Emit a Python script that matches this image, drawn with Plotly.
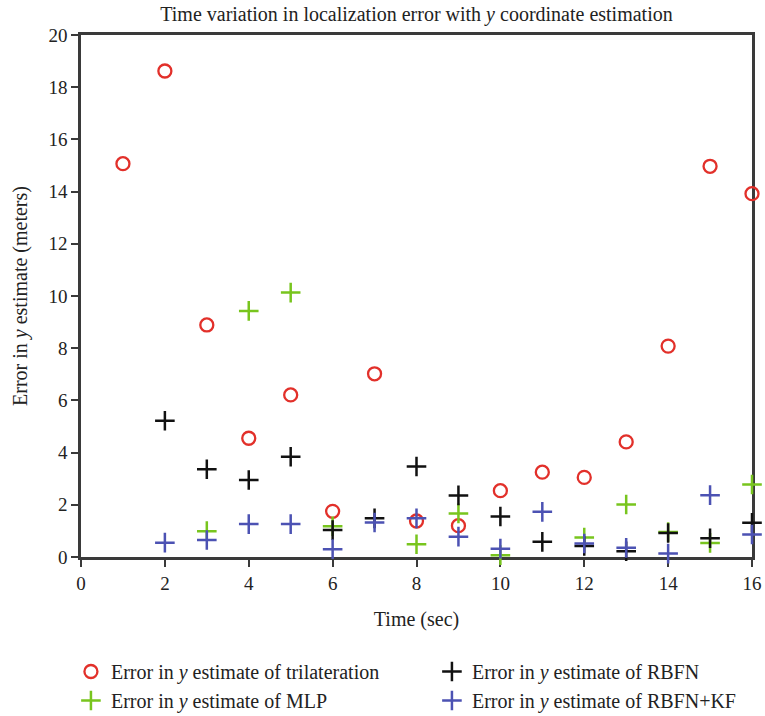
import plotly.graph_objects as go

time = list(range(1, 17))
trilateration = [15.07, 18.62, 8.89, 4.55, 6.21, 1.75, 7.02, 1.38, 1.2, 2.54, 3.25, 3.05, 4.41, 8.08, 14.97, 13.92]
mlp = [None, None, 0.99, 9.43, 10.13, 1.18, None, 0.49, 1.67, 0.07, None, 0.75, 2.01, 0.96, 0.54, 2.78]
rbfn = [None, 5.22, 3.36, 2.95, 3.84, 1.03, 1.48, 3.47, 2.36, 1.55, 0.58, 0.42, 0.22, 0.92, 0.72, 1.31]
rbfn_kf = [None, 0.55, 0.65, 1.26, 1.26, 0.30, 1.32, 1.48, 0.78, 0.32, 1.73, 0.52, 0.35, 0.13, 2.37, 0.86]

x_ticks = [0, 2, 4, 6, 8, 10, 12, 14, 16]
y_ticks = [0, 2, 4, 6, 8, 10, 12, 14, 16, 18, 20]

FONT = "Liberation Serif"
FS = 20
TFS = 19
AX = "#3a3a3a"

fig = go.Figure()
fig.add_trace(go.Scatter(
    x=time, y=trilateration, mode="markers", cliponaxis=False,
    name="Error in <i>y</i> estimate of trilateration", legendrank=1,
    marker=dict(symbol="circle-open", size=13, color="#e2302a", line=dict(width=2.3, color="#e2302a"))))
fig.add_trace(go.Scatter(
    x=time, y=mlp, mode="markers", cliponaxis=False,
    name="Error in <i>y</i> estimate of MLP", legendrank=3,
    marker=dict(symbol="cross-thin", size=14, color="#78c51e", line=dict(width=2.5, color="#78c51e"))))
fig.add_trace(go.Scatter(
    x=time, y=rbfn, mode="markers", cliponaxis=False,
    name="Error in <i>y</i> estimate of RBFN", legendrank=2,
    marker=dict(symbol="cross-thin", size=14, color="#111111", line=dict(width=2.5, color="#111111"))))
fig.add_trace(go.Scatter(
    x=time, y=rbfn_kf, mode="markers", cliponaxis=False,
    name="Error in <i>y</i> estimate of RBFN+KF", legendrank=4,
    marker=dict(symbol="cross-thin", size=14, color="#4c52b3", line=dict(width=2.5, color="#4c52b3"))))

fig.update_layout(
    width=765, height=716,
    margin=dict(l=81, r=13, t=35, b=159, autoexpand=False),
    paper_bgcolor="white", plot_bgcolor="white",
    font=dict(family=FONT, size=FS, color="#222222"),
    title=dict(text="Time variation in localization error with <i>y</i> coordinate estimation",
               x=0.5, xref="paper", xanchor="center", y=0.981, yanchor="middle",
               font=dict(family=FONT, size=FS, color="#222222")),
    xaxis=dict(range=[0, 16], tickvals=x_ticks, ticktext=[str(v) for v in x_ticks],
               showgrid=False, zeroline=False, showline=True, linecolor=AX, linewidth=2.5,
               mirror=True, ticks="outside", ticklen=7, tickwidth=1.5, tickcolor=AX,
               tickfont=dict(family=FONT, size=TFS),
               layer="below traces",
               title=dict(text="Time (sec)", standoff=20, font=dict(family=FONT, size=FS))),
    yaxis=dict(range=[0, 20], tickvals=y_ticks, ticktext=[str(v) for v in y_ticks],
               showgrid=False, zeroline=False, showline=True, linecolor=AX, linewidth=2.5,
               mirror=True, ticks="outside", ticklen=7, tickwidth=1.5, tickcolor=AX,
               tickfont=dict(family=FONT, size=TFS),
               layer="below traces",
               title=dict(text="Error in <i>y</i> estimate (meters)", standoff=16, font=dict(family=FONT, size=FS))),
    legend=dict(orientation="h", x=-0.015, xanchor="left", y=-0.182, yanchor="top",
                entrywidth=316, entrywidthmode="pixels", traceorder="normal",
                font=dict(family=FONT, size=FS, color="#222222"), bgcolor="rgba(0,0,0,0)"),
    showlegend=True,
)

fig.write_html("out.html")
